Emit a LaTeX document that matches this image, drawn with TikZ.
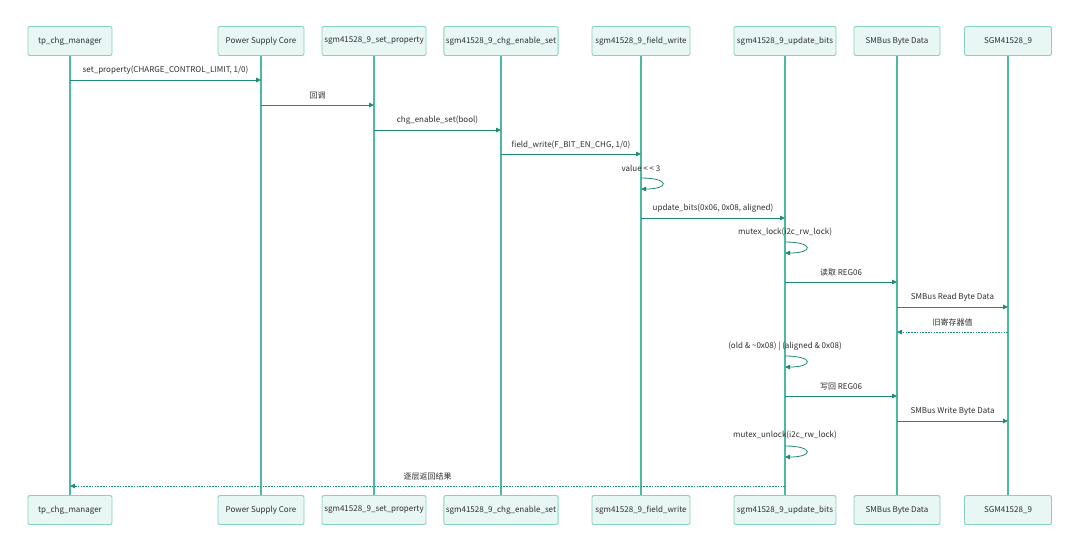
\documentclass[tikz,border=0pt]{standalone}
\usepackage{fontspec}
\setmainfont{Noto Sans CJK SC}
\usetikzlibrary{arrows.meta}
\definecolor{boxfill}{HTML}{E8F7F3}
\definecolor{boxline}{HTML}{86D2C2}
\definecolor{lifecol}{HTML}{4DB8A6}
\definecolor{msgcol}{HTML}{1E8C75}
\definecolor{txtcol}{HTML}{2E2E2E}
\tikzset{
  actor/.style={draw=boxline, fill=boxfill, line width=0.9pt, rounded corners=2pt,
    minimum height=29pt, inner sep=2pt, font=\fontsize{8}{9.5}\selectfont, text=txtcol},
  life/.style={draw=lifecol, line width=1.1pt},
  msg/.style={draw=msgcol, line width=0.8pt, -{Triangle[length=5pt,width=4.5pt]}},
  ret/.style={draw=msgcol, line width=0.8pt, dash pattern=on 1.6pt off 1.2pt, -{Triangle[length=5pt,width=4.5pt]}},
  lbl/.style={font=\fontsize{8}{9.5}\selectfont, text=txtcol, inner sep=1pt},
}
\begin{document}
\begin{tikzpicture}[x=1pt,y=-1pt]
\useasboundingbox[fill=white] (0,0) rectangle (1080,550);
% actors top
\node[actor, minimum width=84pt]  (t1) at (70,41)   {tp\_chg\_manager};
\node[actor, minimum width=86pt]  (t2) at (261,41)  {Power Supply Core};
\node[actor, minimum width=104pt] (t3) at (374,41)  {sgm41528\_9\_set\_property};
\node[actor, minimum width=112pt] (t4) at (501,41)  {sgm41528\_9\_chg\_enable\_set};
\node[actor, minimum width=98pt]  (t5) at (641,41)  {sgm41528\_9\_field\_write};
\node[actor, minimum width=102pt] (t6) at (785,41)  {sgm41528\_9\_update\_bits};
\node[actor, minimum width=86pt]  (t7) at (897,41)  {SMBus Byte Data};
\node[actor, minimum width=87pt]  (t8) at (1008,41) {SGM41528\_9};
% actors bottom
\node[actor, minimum width=84pt]  (b1) at (70,510)   {tp\_chg\_manager};
\node[actor, minimum width=86pt]  (b2) at (261,510)  {Power Supply Core};
\node[actor, minimum width=104pt] (b3) at (374,510)  {sgm41528\_9\_set\_property};
\node[actor, minimum width=112pt] (b4) at (501,510)  {sgm41528\_9\_chg\_enable\_set};
\node[actor, minimum width=98pt]  (b5) at (641,510)  {sgm41528\_9\_field\_write};
\node[actor, minimum width=102pt] (b6) at (785,510)  {sgm41528\_9\_update\_bits};
\node[actor, minimum width=86pt]  (b7) at (897,510)  {SMBus Byte Data};
\node[actor, minimum width=87pt]  (b8) at (1008,510) {SGM41528\_9};
% lifelines
\foreach \i in {1,...,8} { \draw[life] (t\i.south) -- (b\i.north); }
% messages
\draw[msg] (t1 |- 0,80) -- (t2 |- 0,80) node[lbl, midway, above=4pt] {set\_property(CHARGE\_CONTROL\_LIMIT, 1/0)};
\draw[msg] (t2 |- 0,105) -- (t3 |- 0,105) node[lbl, midway, above=4pt] {回调};
\draw[msg] (t3 |- 0,130) -- (t4 |- 0,130) node[lbl, midway, above=4pt] {chg\_enable\_set(bool)};
\draw[msg] (t4 |- 0,154) -- (t5 |- 0,154) node[lbl, midway, above=4pt] {field\_write(F\_BIT\_EN\_CHG, 1/0)};
% self loop value << 3
\node[lbl] (l1) at (641,168) {value <{} <{} 3};
\draw[msg] (t5 |- 0,178) .. controls +(29,0) and +(29,0) .. (t5 |- 0,189);
\draw[msg] (t5 |- 0,218) -- (t6 |- 0,218) node[lbl, midway, above=4pt] {update\_bits(0x06, 0x08, aligned)};
\node[lbl] (l2) at (785,232) {mutex\_lock(i2c\_rw\_lock)};
\draw[msg] (t6 |- 0,242) .. controls +(29,0) and +(29,0) .. (t6 |- 0,253);
\draw[msg] (t6 |- 0,282) -- (t7 |- 0,282) node[lbl, midway, above=4pt] {读取 REG06};
\draw[msg] (t7 |- 0,307) -- (t8 |- 0,307) node[lbl, midway, above=4pt] {SMBus Read Byte Data};
\draw[ret] (t8 |- 0,332) -- (t7 |- 0,332) node[lbl, midway, above=4pt] {旧寄存器值};
\node[lbl] (l3) at (785,346) {(old \& \textasciitilde 0x08) | (aligned \& 0x08)};
\draw[msg] (t6 |- 0,356) .. controls +(29,0) and +(29,0) .. (t6 |- 0,367);
\draw[msg] (t6 |- 0,396) -- (t7 |- 0,396) node[lbl, midway, above=4pt] {写回 REG06};
\draw[msg] (t7 |- 0,421) -- (t8 |- 0,421) node[lbl, midway, above=4pt] {SMBus Write Byte Data};
\node[lbl] (l4) at (785,435) {mutex\_unlock(i2c\_rw\_lock)};
\draw[msg] (t6 |- 0,446) .. controls +(29,0) and +(29,0) .. (t6 |- 0,457);
\draw[ret] (t6 |- 0,486) -- (t1 |- 0,486) node[lbl, midway, above=4pt] {逐层返回结果};
\end{tikzpicture}
\end{document}
